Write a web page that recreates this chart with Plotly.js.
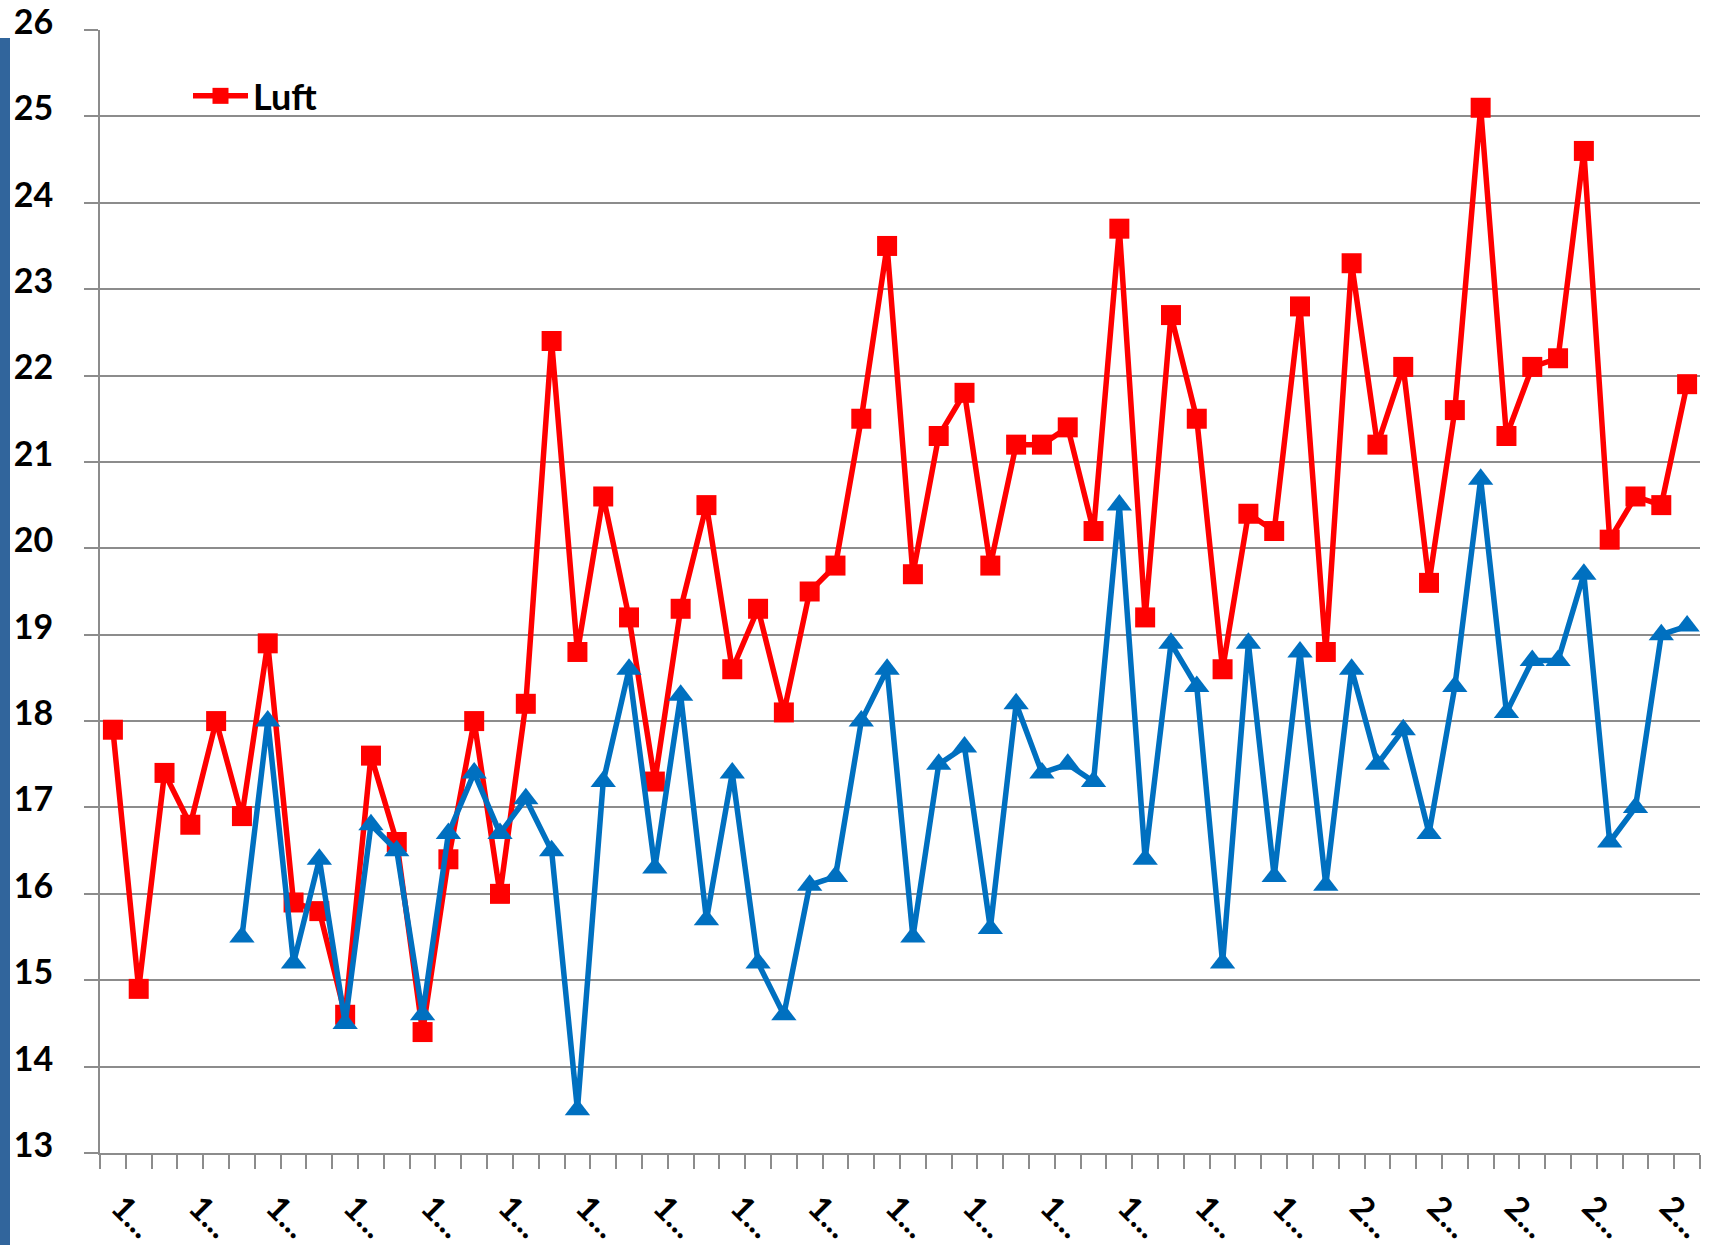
<!DOCTYPE html>
<html>
<head>
<meta charset="utf-8">
<script src="https://cdn.plot.ly/plotly-3.0.1.min.js"></script>
<style>
html,body{margin:0;padding:0;background:#fff;overflow:hidden;}
#chart{width:1712px;height:1245px;}
#bar{position:absolute;left:0;top:38px;width:10px;height:1207px;background:#31659c;z-index:5;}
</style>
</head>
<body>
<div id="bar"></div>
<div id="chart"></div>
<script>
// categories (years, labels truncated in the original chart)
const years = [1952,1953,1954,1955,1956,1957,1958,1959,1960,1961,1962,1963,1964,1965,1966,1967,1968,1969,1970,1971,
               1972,1973,1974,1975,1976,1977,1978,1979,1980,1981,1982,1983,1984,1985,1986,1987,1988,1989,1990,1991,
               1992,1993,1994,1995,1996,1997,1998,1999,2000,2001,2002,2003,2004,2005,2006,2007,2008,2009,2010,2011,
               2012,2013];

// series "Luft" (red squares)
const luft = [17.9,14.9,17.4,16.8,18.0,16.9,18.9,15.9,15.8,14.6,17.6,16.6,14.4,16.4,18.0,16.0,18.2,22.4,18.8,20.6,
              19.2,17.3,19.3,20.5,18.6,19.3,18.1,19.5,19.8,21.5,23.5,19.7,21.3,21.8,19.8,21.2,21.2,21.4,20.2,23.7,
              19.2,22.7,21.5,18.6,20.4,20.2,22.8,18.8,23.3,21.2,22.1,19.6,21.6,25.1,21.3,22.1,22.2,24.6,20.1,20.6,
              20.5,21.9];

// second series (blue triangles), starts at the 6th category
const blue = [null,null,null,null,null,
              15.5,18.0,15.2,16.4,14.5,16.8,16.5,14.6,16.7,17.4,16.7,17.1,16.5,13.5,17.3,
              18.6,16.3,18.3,15.7,17.4,15.2,14.6,16.1,16.2,18.0,18.6,15.5,17.5,17.7,15.6,18.2,17.4,17.5,17.3,20.5,
              16.4,18.9,18.4,15.2,18.9,16.2,18.8,16.1,18.6,17.5,17.9,16.7,18.4,20.8,18.1,18.7,18.7,19.7,16.6,17.0,
              19.0,19.1];

// x tick labels (every third category, truncated as in the original)
const tickLabels = ["1...","1...","1...","1...","1...","1...","1...","1...","1...","1...","1...",
                    "1...","1...","1...","1...","1...","2...","2...","2...","2...","2..."];

const ticktext = years.map((y, i) => (i % 3 === 0 ? tickLabels[i / 3] : ""));
const cats = years.map(String);

const fam = "Lato, 'Open Sans', sans-serif";
const gridColor = "#8c8c8c";

const traces = [
  {
    x: cats, y: luft, name: "Luft", type: "scatter", mode: "lines+markers",
    line: {color: "#ff0000", width: 5.5},
    marker: {symbol: "square", size: 20, color: "#ff0000"},
    showlegend: true
  },
  {
    x: cats, y: blue, name: "", type: "scatter", mode: "lines+markers",
    line: {color: "#0070c0", width: 5.5},
    marker: {symbol: "triangle-up", size: 22, color: "#0070c0"},
    showlegend: false
  }
];

const layout = {
  width: 1712, height: 1245,
  margin: {l: 100, r: 12, t: 30, b: 92},
  paper_bgcolor: "#fff", plot_bgcolor: "#fff",
  font: {family: fam, size: 32, color: "#000", weight: 700},
  showlegend: true,
  legend: {
    x: 0.055, y: 0.968, xanchor: "left", yanchor: "top",
    itemwidth: 55,
    bgcolor: "rgba(0,0,0,0)", borderwidth: 0,
    font: {family: fam, size: 36, color: "#000", weight: 700}
  },
  xaxis: {
    type: "category",
    range: [-0.5, years.length - 0.5],
    tickmode: "array", tickvals: cats, ticktext: ticktext,
    tickson: "boundaries",
    ticks: "outside", ticklen: 14, tickwidth: 2, tickcolor: gridColor,
    showline: true, linecolor: gridColor, linewidth: 2,
    showgrid: false, zeroline: false,
    tickangle: 45,
    ticklabelstandoff: 20,
    ticklabelshift: 8,
    ticklabeloverflow: "allow",
    tickfont: {family: fam, size: 33, color: "#000", weight: 700}
  },
  yaxis: {
    range: [13, 26], dtick: 1, tick0: 13,
    ticks: "outside", ticklen: 14, tickwidth: 2, tickcolor: gridColor,
    showline: true, linecolor: gridColor, linewidth: 2,
    showgrid: true, gridcolor: gridColor, gridwidth: 2,
    zeroline: false,
    ticklabelstandoff: 24,
    ticklabelshift: -8,
    ticklabeloverflow: "allow",
    tickfont: {family: fam, size: 34, color: "#000", weight: 700}
  }
};

Plotly.newPlot("chart", traces, layout, {displayModeBar: false, staticPlot: true});
</script>
</body>
</html>
